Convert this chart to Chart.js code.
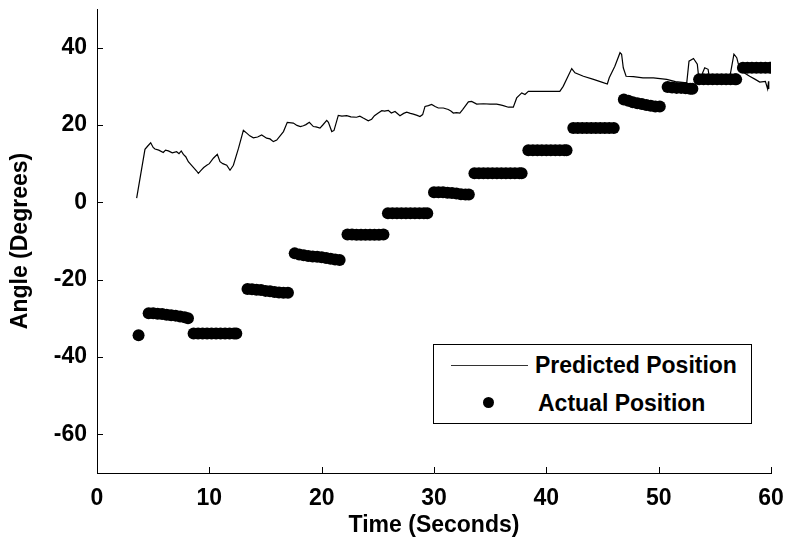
<!DOCTYPE html>
<html>
<head>
<meta charset="utf-8">
<script src="https://cdn.jsdelivr.net/npm/chart.js@4.4.1/dist/chart.umd.min.js"></script>
<style>
  html, body { margin: 0; padding: 0; background: #fff; }
  #wrap { position: relative; width: 787px; height: 544px; }
  #legend { position: absolute; left: 433px; top: 344px; width: 319px; height: 80px;
    border: 1px solid #000; background: #fff; font-family: "Liberation Sans", Arial, sans-serif;
    font-size: 23px; font-weight: bold; color: #000; box-sizing: border-box; }
  .row { position: absolute; left: 0; height: 30px; line-height: 30px; }
  .txt { position: absolute; left: 101px; white-space: nowrap; }
  .ln { position: absolute; left: 17px; width: 77px; top: 15px; border-top: 1px solid #333; }
  .dt { position: absolute; left: 49px; top: 9px; width: 11px; height: 11px; border-radius: 50%; background: #000; }
</style>
</head>
<body>
<div id="wrap">
  <canvas id="c" width="787" height="544"></canvas>
  <div id="legend">
    <div class="row" style="top:5px;width:100%"><div class="ln"></div><div class="txt">Predicted Position</div></div>
    <div class="row" style="top:43px;width:100%"><div class="dt"></div><div class="txt" style="left:104px">Actual Position</div></div>
  </div>
</div>
<script>
// ---- data ----
const predTime  = [3.53,4.27,4.5,4.78,5.0,5.16,5.5,5.9,6.1,6.35,6.7,7.09,7.3,7.5,7.69,7.9,8.13,8.5,8.87,9.02,9.3,9.5,9.77,10.0,10.36,10.71,10.95,11.2,11.55,11.84,12.14,12.6,13.03,13.33,13.6,13.92,14.3,14.66,15.1,15.4,15.7,16.0,16.3,16.6,16.94,17.48,17.8,18.1,18.37,18.6,18.9,19.26,19.5,19.85,20.1,20.45,20.6,20.9,21.1,21.48,21.8,22.23,22.6,23.1,23.4,23.7,24.15,24.45,24.7,25.04,25.35,25.6,25.93,26.2,26.53,26.97,27.3,27.57,27.9,28.16,28.5,28.75,28.99,29.2,29.5,29.79,30.1,30.38,30.83,31.27,31.5,31.72,32.0,32.3,32.55,33.06,33.35,33.8,34.4,34.99,35.58,35.9,36.17,36.62,37.06,37.36,37.81,38.1,38.4,39.44,40.5,41.2,41.5,42.26,42.55,43.3,44.2,44.93,45.43,45.6,46.1,46.56,46.7,46.85,47.1,47.75,48.6,49.53,50.72,51.5,52.5,52.7,53.1,53.44,53.6,54.1,54.4,54.57,55.5,56.2,56.4,56.7,56.95,57.18,57.6,58.1,58.6,59.0,59.5,59.7,59.78,59.8];
const predAngle = [1.1,13.7,14.5,15.4,14.2,13.8,13.5,12.9,13.5,13.3,12.8,13.1,12.6,13.3,12.4,11.8,10.5,9.3,8.1,7.5,8.4,9.0,9.6,10.0,11.4,12.4,10.5,10.0,9.6,8.3,9.6,14.0,18.6,17.9,17.2,16.7,16.9,17.4,16.6,16.4,15.7,16.1,17.2,18.3,20.7,20.5,19.9,19.6,19.8,20.1,20.7,19.6,19.5,19.2,20.0,21.2,20.7,18.3,18.6,22.5,22.3,22.4,22.1,22.0,22.3,21.8,21.1,21.5,22.4,23.1,23.7,23.6,23.8,23.1,23.5,22.4,23.0,23.3,23.0,22.8,22.5,22.2,22.7,24.8,25.0,25.3,24.8,24.4,24.4,24.0,23.6,23.1,23.2,23.1,24.0,26.0,26.1,25.4,25.5,25.4,25.4,25.2,25.0,24.6,24.6,27.0,28.3,27.9,28.7,28.7,28.7,28.7,30.0,34.6,33.5,32.6,31.8,31.1,30.6,32.2,35.2,38.7,38.3,34.8,32.6,32.5,32.2,32.2,31.8,31.2,30.9,36.5,37.2,35.7,31.3,34.8,34.4,31.3,31.0,31.0,33.5,38.3,37.4,34.8,33.5,32.6,31.8,31.1,31.3,29.3,31.3,29.3];

const actualTime  = [3.7,
  4.6,5.0,5.4,5.8,6.2,6.6,7.0,7.4,7.8,8.1,
  8.6,9.0,9.4,9.8,10.2,10.6,11.0,11.4,11.8,12.2,12.4,
  13.4,13.8,14.2,14.6,15.0,15.4,15.8,16.2,16.6,17.0,
  17.6,18.0,18.4,18.8,19.2,19.6,20.0,20.4,20.8,21.2,21.6,
  22.3,22.7,23.1,23.5,23.9,24.3,24.7,25.1,25.5,
  25.9,26.3,26.7,27.1,27.5,27.9,28.3,28.7,29.1,29.4,
  30.0,30.4,30.8,31.2,31.6,32.0,32.4,32.8,33.1,
  33.6,34.0,34.4,34.8,35.2,35.6,36.0,36.4,36.8,37.2,37.6,37.8,
  38.4,38.8,39.2,39.6,40.0,40.4,40.8,41.2,41.6,41.8,
  42.4,42.8,43.2,43.6,44.0,44.4,44.8,45.2,45.6,46.0,
  46.9,47.3,47.7,48.1,48.5,48.9,49.3,49.7,50.1,
  50.8,51.2,51.6,52.0,52.4,52.8,53.0,
  53.6,54.0,54.4,54.8,55.2,55.6,56.0,56.4,56.8,56.9,
  57.5,57.9,58.3,58.7,59.1,59.5,59.9];
const actualAngle = [-34.4,
  -28.7,-28.7,-28.8,-28.9,-29.1,-29.2,-29.3,-29.5,-29.7,-30.0,
  -33.9,-33.9,-33.9,-33.9,-33.9,-33.9,-33.9,-33.9,-33.9,-33.9,-33.9,
  -22.4,-22.5,-22.6,-22.7,-22.9,-23.0,-23.2,-23.3,-23.4,-23.4,
  -13.2,-13.5,-13.7,-13.9,-14.0,-14.1,-14.2,-14.4,-14.6,-14.8,-14.9,
  -8.3,-8.3,-8.4,-8.4,-8.4,-8.4,-8.4,-8.4,-8.3,
  -2.8,-2.8,-2.8,-2.8,-2.8,-2.8,-2.8,-2.8,-2.8,-2.8,
  2.6,2.6,2.6,2.5,2.4,2.3,2.1,2.0,2.0,
  7.5,7.5,7.5,7.5,7.5,7.5,7.5,7.5,7.5,7.5,7.5,7.5,
  13.5,13.5,13.5,13.5,13.5,13.5,13.5,13.5,13.5,13.5,
  19.2,19.2,19.2,19.2,19.2,19.2,19.2,19.2,19.2,19.2,
  26.6,26.3,25.9,25.6,25.4,25.2,25.0,24.8,24.8,
  29.8,29.7,29.6,29.6,29.5,29.4,29.4,
  31.8,31.8,31.8,31.8,31.8,31.8,31.8,31.8,31.8,31.8,
  34.8,34.8,34.8,34.8,34.8,34.8,34.8];

const xTickValues = [0,10,20,30,40,50,60];
const yTickValues = [-60,-40,-20,0,20,40];
const xLabel = 'Time (Seconds)';
const yLabel = 'Angle (Degrees)';

// ---- chart ----
const FONT = '"Liberation Sans", Arial, sans-serif';
const TXT = { family: FONT, size: 23, weight: 'bold' };

const inwardTicks = {
  id: 'inwardTicks',
  afterDraw(chart) {
    const {ctx, chartArea, scales: {x, y}} = chart;
    ctx.save();
    ctx.strokeStyle = '#000';
    ctx.lineWidth = 1;
    ctx.beginPath();
    xTickValues.forEach(v => {
      const px = Math.round(x.getPixelForValue(v)) + 0.5;
      ctx.moveTo(px, chartArea.bottom);
      ctx.lineTo(px, chartArea.bottom - 6);
    });
    yTickValues.forEach(v => {
      const py = Math.round(y.getPixelForValue(v)) + 0.5;
      ctx.moveTo(chartArea.left, py);
      ctx.lineTo(chartArea.left + 6, py);
    });
    ctx.stroke();
    ctx.restore();
  }
};

new Chart(document.getElementById('c'), {
  type: 'scatter',
  data: {
    datasets: [
      {
        label: 'Predicted Position',
        data: predTime.map((t, i) => ({x: t, y: predAngle[i]})),
        showLine: true,
        borderColor: '#000',
        borderWidth: 1.2,
        pointRadius: 0,
        tension: 0,
        order: 1
      },
      {
        label: 'Actual Position',
        data: actualTime.map((t, i) => ({x: t, y: actualAngle[i]})),
        backgroundColor: '#000',
        borderWidth: 0,
        pointRadius: 6,
        order: 0
      }
    ]
  },
  options: {
    responsive: false,
    animation: false,
    events: [],
    layout: { padding: { top: 9, right: 16, left: 0, bottom: 0 } },
    plugins: { legend: { display: false }, tooltip: { enabled: false } },
    scales: {
      x: {
        type: 'linear', min: 0, max: 60,
        afterBuildTicks: s => { s.ticks = xTickValues.map(v => ({value: v})); },
        afterFit: s => { s.height = 71; s.paddingLeft = 0; s.paddingRight = 0; },
        grid: { display: false, drawTicks: false },
        border: { display: true, color: '#000', width: 1 },
        ticks: { color: '#000', font: TXT, padding: 12, maxRotation: 0 },
        title: { display: true, text: xLabel, color: '#000', font: TXT, padding: { top: 0, bottom: 5 } }
      },
      y: {
        type: 'linear', min: -70, max: 50,
        afterBuildTicks: s => { s.ticks = yTickValues.map(v => ({value: v})); },
        afterFit: s => { s.width = 97; s.paddingTop = 0; s.paddingBottom = 0; },
        grid: { display: false, drawTicks: false },
        border: { display: true, color: '#000', width: 1 },
        ticks: { color: '#000', font: TXT, padding: 10 },
        title: { display: true, text: yLabel, color: '#000', font: TXT, padding: { top: 7, bottom: 0 } }
      }
    }
  },
  plugins: [inwardTicks]
});
</script>
</body>
</html>
